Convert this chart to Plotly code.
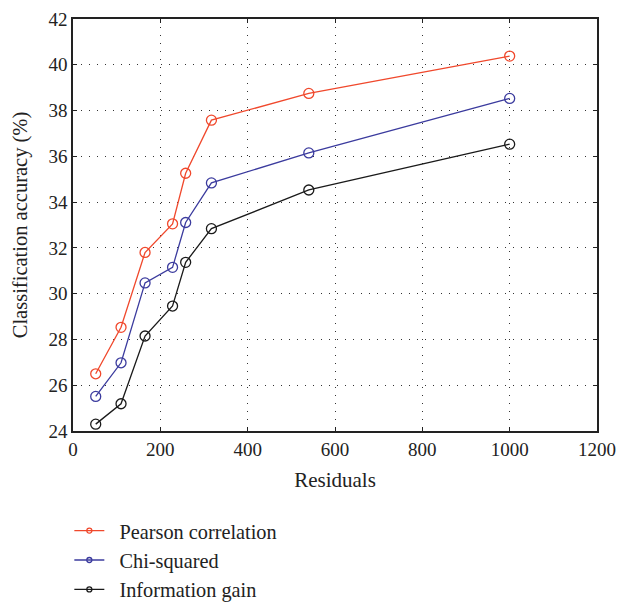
import plotly.graph_objects as go

residuals = [52, 110, 165, 228, 258, 317, 540, 1000]
pearson = [26.5, 28.53, 31.8, 33.05, 35.26, 37.58, 38.75, 40.38]
chi_squared = [25.51, 26.98, 30.47, 31.15, 33.11, 34.84, 36.15, 38.53]
info_gain = [24.3, 25.19, 28.15, 29.46, 31.37, 32.84, 34.53, 36.53]

series = [
    ("Pearson correlation", pearson, "#f0482c"),
    ("Chi-squared", chi_squared, "#3b3b9e"),
    ("Information gain", info_gain, "#1a1a1a"),
]

font = "Liberation Serif"
fig = go.Figure()
for name, vals, col in series:
    fig.add_trace(go.Scatter(
        x=residuals, y=vals, mode="lines+markers", name=name, showlegend=False,
        line=dict(color=col, width=1.3),
        marker=dict(symbol="circle-open", size=10, color=col, line=dict(width=1.3)),
    ))
for name, vals, col in series:
    fig.add_trace(go.Scatter(
        x=[None], y=[None], mode="lines+markers", name="\u00a0\u00a0" + name,
        line=dict(color=col, width=1.3),
        marker=dict(symbol="circle-open", size=5, color=col, line=dict(width=1.3)),
    ))

axis_common = dict(
    showline=True, linecolor="#222", linewidth=1.5, mirror="ticks",
    ticks="inside", ticklen=4, tickcolor="#222",
    showgrid=True, gridcolor="#333", griddash="1px,7px", gridwidth=1,
    zeroline=False, automargin=False,
    tickfont=dict(family=font, size=19, color="#222"),
)
fig.update_xaxes(range=[0, 1200], dtick=200,
                 title=dict(text="Residuals", font=dict(family=font, size=21, color="#222"), standoff=14),
                 **axis_common)
fig.update_yaxes(range=[24, 42], dtick=2,
                 title=dict(text="Classification accuracy (%)", font=dict(family=font, size=20.5, color="#222"), standoff=15),
                 **axis_common)

fig.update_layout(
    width=618, height=603,
    margin=dict(l=73, r=21, t=19, b=172, autoexpand=False),
    paper_bgcolor="white", plot_bgcolor="white",
    font=dict(family=font, color="#222"),
    legend=dict(x=-0.007, y=-0.194, xanchor="left", yanchor="top",
                font=dict(family=font, size=20.3, color="#222"),
                tracegroupgap=0, itemwidth=30),
)
fig.write_html("out.html", config={"displayModeBar": False},
               post_script="document.body.style.margin='0';")
